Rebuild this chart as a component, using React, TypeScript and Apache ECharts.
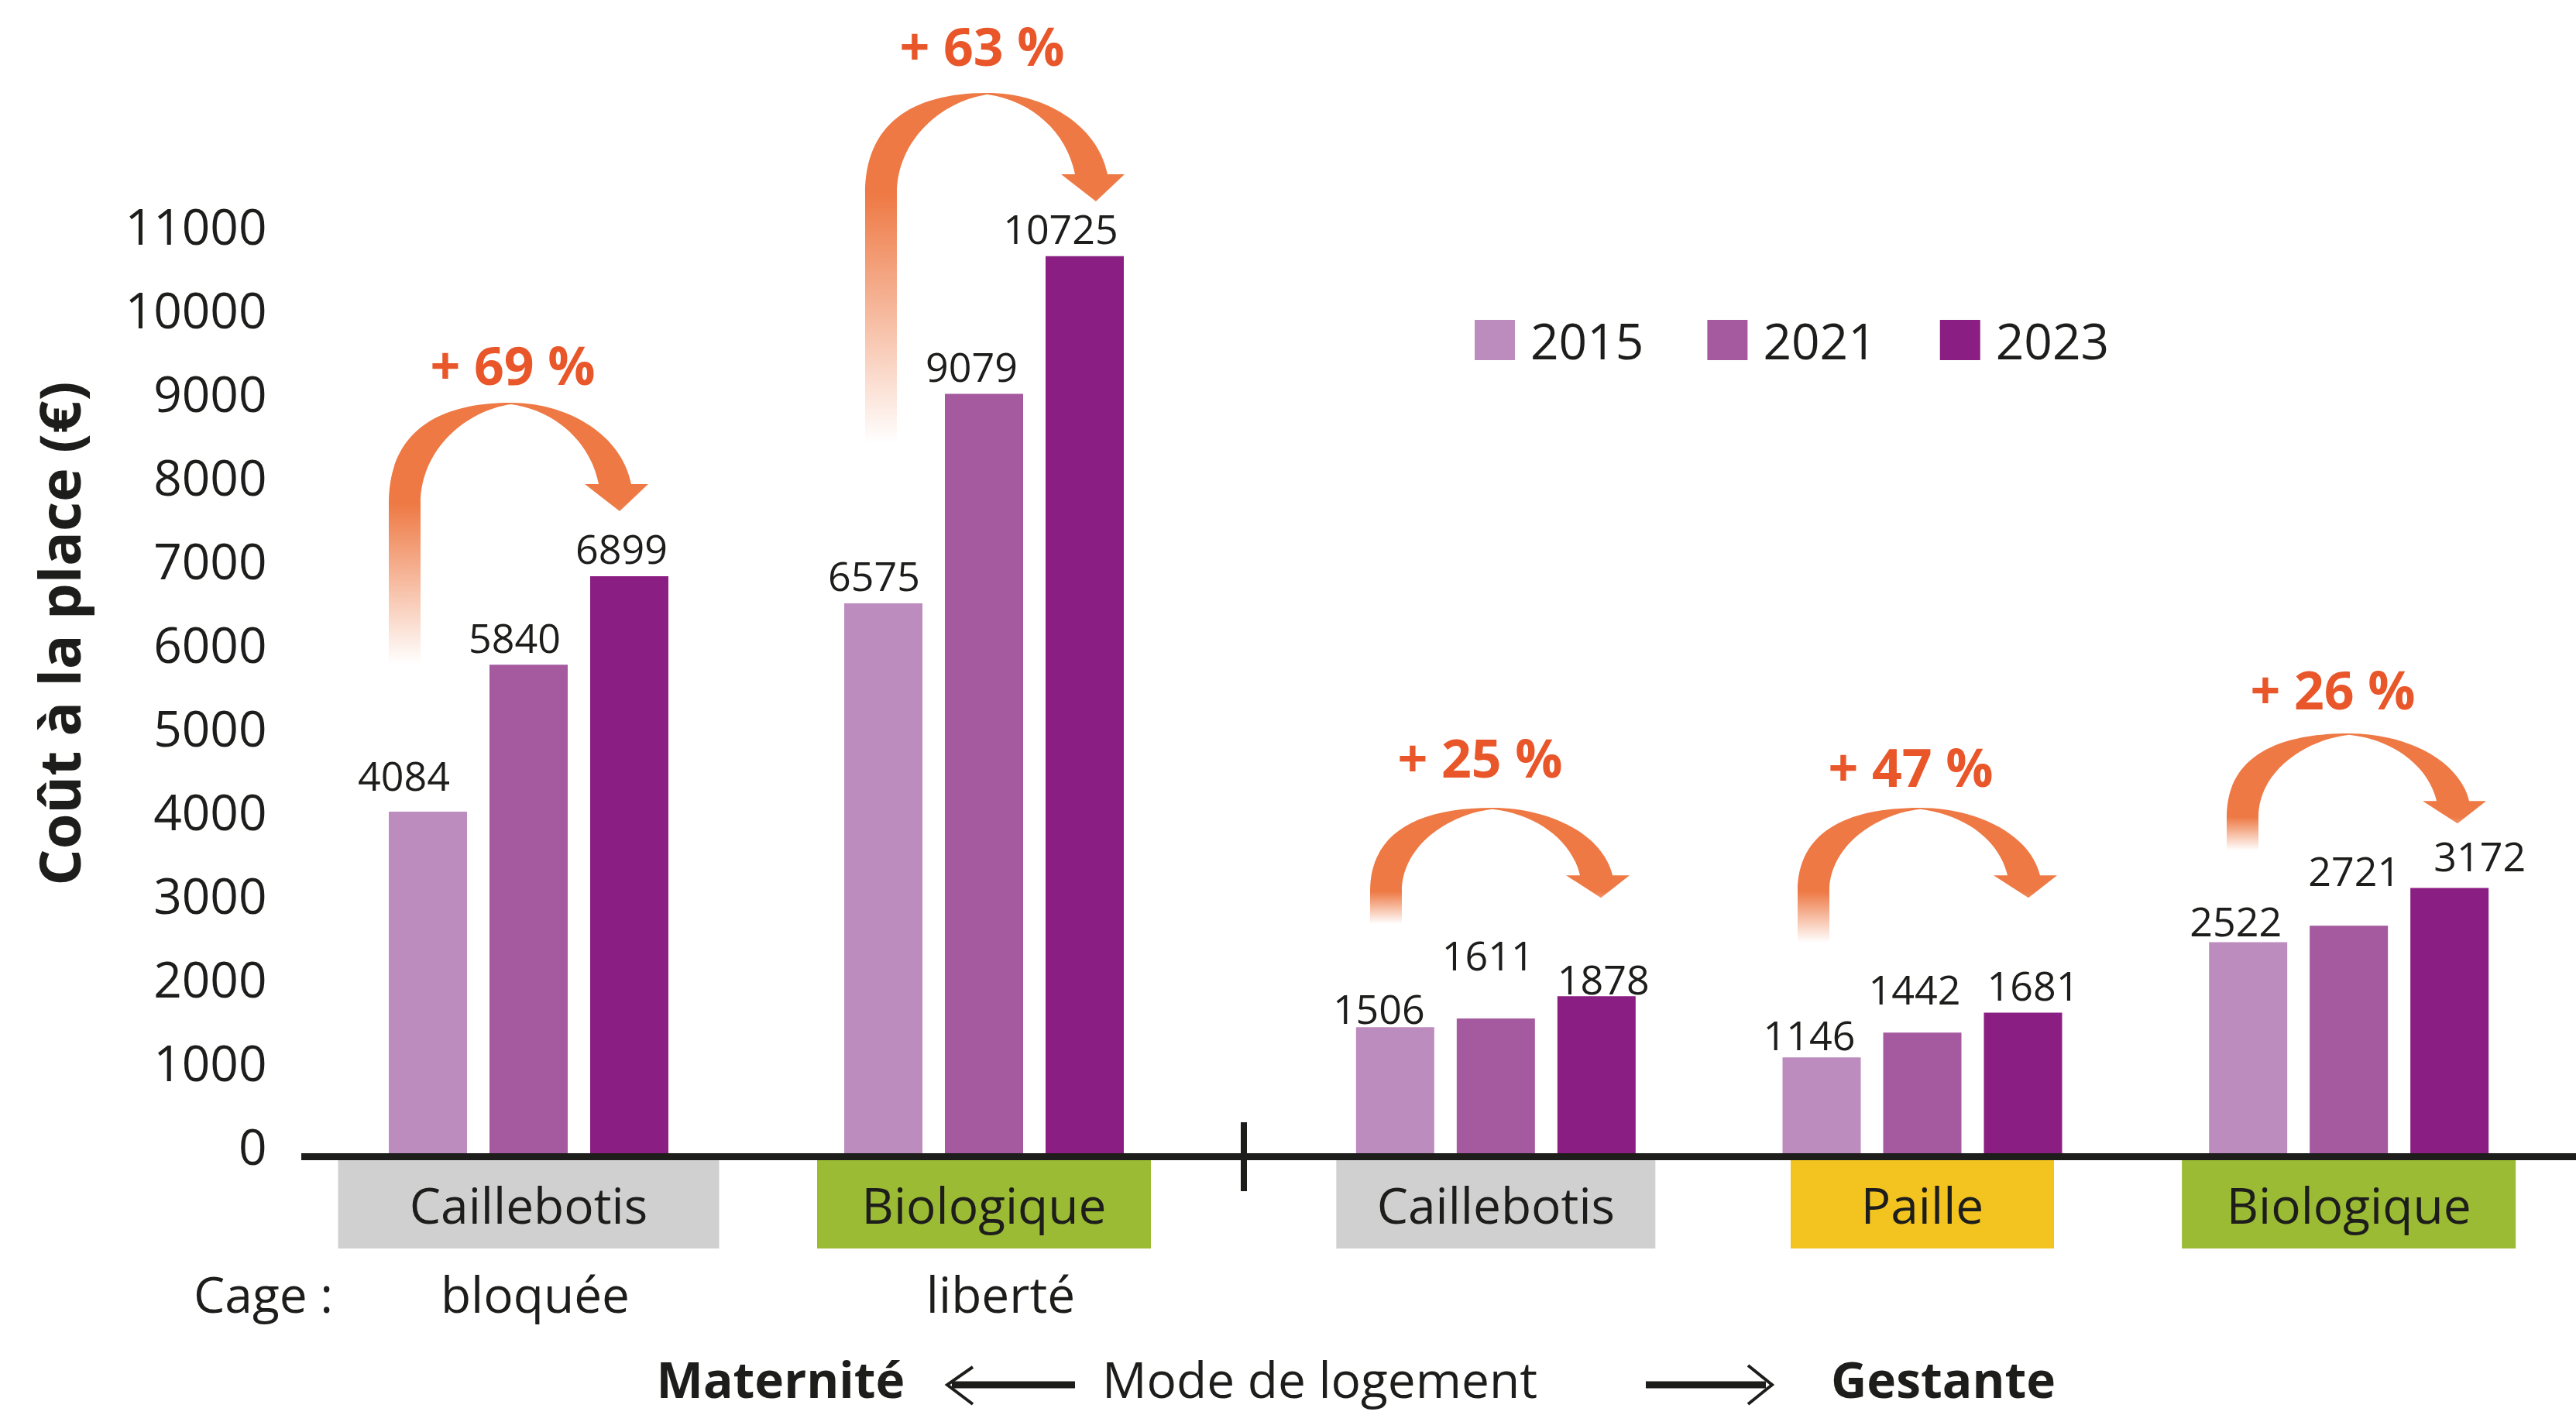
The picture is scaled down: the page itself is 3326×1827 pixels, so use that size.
import React, { useEffect, useRef } from 'react';
import * as echarts from 'echarts';

// ---------- data ----------
const categoriesMaternite = ['Caillebotis', 'Biologique'];
const categoriesGestante = ['Caillebotis', 'Paille', 'Biologique'];
const cageLabels = ['bloquée', 'liberté'];
const years = ['2015', '2021', '2023'];
const maternite2015 = [4084, 6575];
const maternite2021 = [5840, 9079];
const maternite2023 = [6899, 10725];
const gestante2015 = [1506, 1146, 2522];
const gestante2021 = [1611, 1442, 2721];
const gestante2023 = [1878, 1681, 3172];
const increaseLabels = ['+ 69 %', '+ 63 %', '+ 25 %', '+ 47 %', '+ 26 %'];
const yMin = 0;
const yMax = 11000;
const yStep = 1000;

// ---------- styles ----------
const COLORS = ['#BD8CBF', '#A55AA0', '#8B1E82'];
const TEXT = '#1D1D1B';
const ORANGE_TEXT = '#E8562A';
const ORANGE = '#EE7944';
const FONT = '"Open Sans", "DejaVu Sans", sans-serif';

// value-label placement nudges (pixels), per series, per category
const nudgeM2015 = [[-31, -11], [-12, 0]];
const nudgeM2021 = [[-18, 0], [-16, 0]];
const nudgeM2023 = [[-10, 0], [-31, 0]];
const nudgeG2015 = [[-21, 11], [-16, 6], [-16, 8]];
const nudgeG2021 = [[-10, -47], [-10, -21], [7, -36]];
const nudgeG2023 = [[9, 13], [13, 0], [39, -6]];

// annotation layout (pixels)
const arrowLayout = [
  { legX: 502, apexY: 520, s: 1, legBottom: 857, labelX: 662, labelY: 470 },
  { legX: 1117, apexY: 120, s: 1, legBottom: 573, labelX: 1268, labelY: 58 },
  { legX: 1769, apexY: 1043, s: 0.83, legBottom: 1193, labelX: 1911, labelY: 977 },
  { legX: 2321, apexY: 1043, s: 0.83, legBottom: 1217, labelX: 2467, labelY: 989 },
  { legX: 2875, apexY: 947, s: 0.83, legBottom: 1098, labelX: 3012, labelY: 889 },
];

function arrowD(legLen: number, s: number) {
  const y = (v: number) => (v * s).toFixed(2);
  return [
    `M 0 ${legLen}`,
    `L 0 ${y(130)}`,
    `C 0 ${y(40)} 60 0 158 0`,
    `C 230 0 300 ${y(40)} 313 ${y(105)}`,
    `L 335 ${y(105)}`,
    `L 298 ${y(140)}`,
    `L 253 ${y(105)}`,
    `L 271 ${y(105)}`,
    `C 260 ${y(50)} 215 ${y(10)} 158 ${y(2)}`,
    `C 100 ${y(10)} 41 ${y(60)} 41 ${y(130)}`,
    `L 41 ${legLen}`,
    'Z',
  ].join(' ');
}

arrowLayout.forEach((a, i) => {
  echarts.graphic.registerShape(
    'incArrow' + i,
    echarts.graphic.extendPath(arrowD(a.legBottom - a.apexY, a.s), {})
  );
});

const boxRichM: any = {
  m0: { width: 492, backgroundColor: '#D0D0D0' },
  m1: { width: 431, backgroundColor: '#9BBB34' },
};
const boxRichG: any = {
  g0: { width: 412, backgroundColor: '#D0D0D0' },
  g1: { width: 340, backgroundColor: '#F3C31F' },
  g2: { width: 431, backgroundColor: '#9BBB34' },
};
[boxRichM, boxRichG].forEach((r) =>
  Object.keys(r).forEach((k) => {
    Object.assign(r[k], {
      height: 114,
      lineHeight: 114,
      align: 'center',
      fontSize: 64,
      fontFamily: FONT,
      color: TEXT,
    });
  })
);

function barSeries(name: string, values: number[], nudges: number[][], color: string, idx: number) {
  return {
    type: 'bar',
    name,
    data: values.map((v, i) => ({ value: v, label: { offset: nudges[i] } })),
    xAxisIndex: idx,
    yAxisIndex: idx,
    barWidth: 101,
    barGap: '28.7%',
    itemStyle: { color },
    label: {
      show: true,
      position: 'top',
      distance: 10,
      color: TEXT,
      fontFamily: FONT,
      fontSize: 52,
    },
  };
}

export default function App() {
  const ref = useRef<HTMLDivElement>(null);

  useEffect(() => {
    if (!ref.current) return;
    const chart = echarts.init(ref.current, null, { renderer: 'svg' });

    const yAxisCommon = {
      type: 'value',
      min: yMin,
      max: yMax,
      interval: yStep,
      axisLine: { show: false },
      axisTick: { show: false },
      splitLine: { show: false },
    };

    const graphics: any[] = [];
    graphics.push({
      type: 'line',
      shape: { x1: 389, y1: 1493.5, x2: 3326, y2: 1493.5 },
      style: { stroke: TEXT, lineWidth: 9 },
      z: 10,
    });
    graphics.push({
      type: 'line',
      shape: { x1: 1606, y1: 1449, x2: 1606, y2: 1538 },
      style: { stroke: TEXT, lineWidth: 8 },
      z: 10,
    });
    arrowLayout.forEach((a, i) => {
      const stop = Math.min(0.95, (130 * a.s) / (a.legBottom - a.apexY));
      graphics.push({
        type: 'incArrow' + i,
        x: a.legX,
        y: a.apexY,
        style: {
          fill: new echarts.graphic.LinearGradient(0, 0, 0, 1, [
            { offset: 0, color: ORANGE },
            { offset: stop, color: ORANGE },
            { offset: 1, color: 'rgba(238,121,68,0)' },
          ]),
        },
        z: 5,
      });
      graphics.push({
        type: 'text',
        x: a.labelX,
        y: a.labelY,
        style: {
          text: increaseLabels[i],
          fill: ORANGE_TEXT,
          fontFamily: FONT,
          fontWeight: 'bold',
          fontSize: 68,
          align: 'center',
          verticalAlign: 'middle',
        },
        z: 6,
      });
    });
    graphics.push({
      type: 'text',
      x: 75,
      y: 818,
      rotation: Math.PI / 2,
      style: {
        text: 'Coût à la place (€)',
        fill: TEXT,
        fontFamily: FONT,
        fontWeight: 'bold',
        fontSize: 74,
        align: 'center',
        verticalAlign: 'middle',
      },
    });
    const plainText = (text: string, x: number, y: number, bold = false, size = 64) => ({
      type: 'text',
      x,
      y,
      style: {
        text,
        fill: TEXT,
        fontFamily: FONT,
        fontWeight: bold ? 'bold' : 'normal',
        fontSize: size,
        align: 'center',
        verticalAlign: 'middle',
      },
    });
    graphics.push(plainText('Cage :', 340, 1670));
    graphics.push(plainText(cageLabels[0], 691, 1670));
    graphics.push(plainText(cageLabels[1], 1292, 1670));
    graphics.push(plainText('Maternité', 1008, 1780, true, 64));
    graphics.push(plainText('Mode de logement', 1704, 1780));
    graphics.push(plainText('Gestante', 2509, 1780, true, 64));
    graphics.push({
      type: 'line',
      shape: { x1: 1229, y1: 1788, x2: 1388, y2: 1788 },
      style: { stroke: TEXT, lineWidth: 9 },
    });
    graphics.push({
      type: 'polyline',
      shape: { points: [[1256, 1765], [1223, 1788], [1256, 1813]] },
      style: { stroke: TEXT, lineWidth: 4, fill: 'none' },
    });
    graphics.push({
      type: 'line',
      shape: { x1: 2125, y1: 1788, x2: 2280, y2: 1788 },
      style: { stroke: TEXT, lineWidth: 9 },
    });
    graphics.push({
      type: 'polyline',
      shape: { points: [[2257, 1763], [2288, 1788], [2257, 1813]] },
      style: { stroke: TEXT, lineWidth: 4, fill: 'none' },
    });

    const option: any = {
      animation: false,
      backgroundColor: '#FFFFFF',
      textStyle: { fontFamily: FONT },
      legend: {
        data: years,
        left: 1904,
        top: 407,
        padding: 0,
        icon: 'rect',
        itemWidth: 52,
        itemHeight: 52,
        itemGap: 82,
        textStyle: {
          fontFamily: FONT,
          fontSize: 64,
          color: TEXT,
          padding: [0, 0, 0, 15],
        },
      },
      grid: [
        { left: 388.5, top: 301, width: 1176, height: 1188, outerBoundsMode: 'none', containLabel: false },
        { left: 1656, top: 301, width: 1652, height: 1188, outerBoundsMode: 'none', containLabel: false },
      ],
      xAxis: [
        {
          type: 'category',
          gridIndex: 0,
          data: categoriesMaternite,
          axisLine: { show: false },
          axisTick: { show: false },
          axisLabel: {
            interval: 0,
            margin: 9,
            formatter: (v: string, i: number) => `{m${i}|${v}}`,
            rich: boxRichM,
          },
        },
        {
          type: 'category',
          gridIndex: 1,
          data: categoriesGestante,
          axisLine: { show: false },
          axisTick: { show: false },
          axisLabel: {
            interval: 0,
            margin: 9,
            formatter: (v: string, i: number) => `{g${i}|${v}}`,
            rich: boxRichG,
          },
        },
      ],
      yAxis: [
        {
          ...yAxisCommon,
          gridIndex: 0,
          axisLabel: {
            margin: 44,
            color: TEXT,
            fontFamily: FONT,
            fontSize: 64,
            verticalAlign: 'bottom',
            lineHeight: 20,
            formatter: (v: number) => String(v),
          },
        },
        {
          ...yAxisCommon,
          gridIndex: 1,
          axisLabel: { show: false },
        },
      ],
      series: [
        barSeries(years[0], maternite2015, nudgeM2015, COLORS[0], 0),
        barSeries(years[1], maternite2021, nudgeM2021, COLORS[1], 0),
        barSeries(years[2], maternite2023, nudgeM2023, COLORS[2], 0),
        barSeries(years[0], gestante2015, nudgeG2015, COLORS[0], 1),
        barSeries(years[1], gestante2021, nudgeG2021, COLORS[1], 1),
        barSeries(years[2], gestante2023, nudgeG2023, COLORS[2], 1),
      ],
      graphic: graphics,
    };

    chart.setOption(option);
    return () => chart.dispose();
  }, []);

  return (
    <div
      ref={ref}
      style={{ position: 'fixed', left: 0, top: 0, width: '3326px', height: '1827px' }}
    />
  );
}
